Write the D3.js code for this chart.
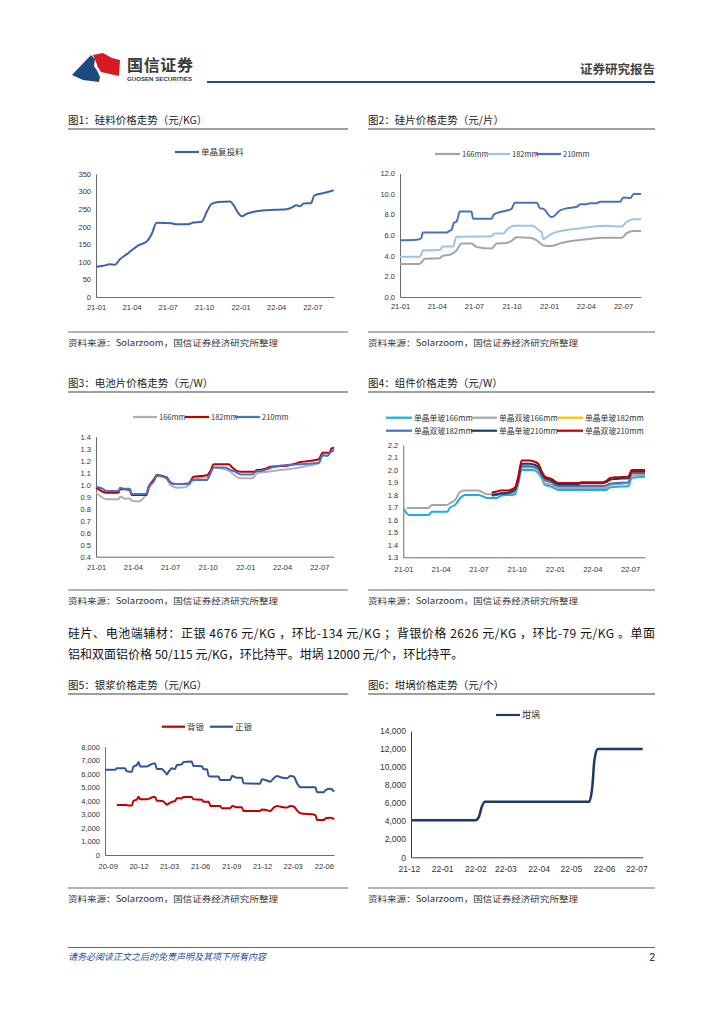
<!DOCTYPE html>
<html>
<head>
<meta charset="utf-8">
<script src="https://cdn.jsdelivr.net/npm/d3@7"></script>
<style>
  body { margin: 0; background: #fff; }
  svg text { font-family: "Noto Sans CJK SC", "Noto Sans", sans-serif; }
</style>
</head>
<body>
<svg id="page" width="724" height="1024"></svg>
<script>
// ---- data ----

// fig1 silicon (单晶复投料), 元/KG
const c1Dates = ["2021-01-01","2021-01-19","2021-02-05","2021-02-18","2021-03-03","2021-03-20","2021-04-01","2021-04-18","2021-05-09","2021-05-22","2021-06-03","2021-07-11","2021-07-20","2021-08-22","2021-09-04","2021-09-25","2021-10-08","2021-10-20","2021-11-06","2021-12-06","2021-12-14","2021-12-27","2022-01-04","2022-01-17","2022-02-07","2022-03-04","2022-03-30","2022-04-28","2022-05-11","2022-05-22","2022-06-01","2022-06-09","2022-06-28","2022-07-06","2022-07-21","2022-08-07","2022-08-24"];
const c1Vals  = [86,89,93,92,108,122,133,147,158,180,211,210,207,207,212,214,243,265,270,272,262,238,230,237,243,247,248,250,255,261,258,266,267,288,294,298,304];
const c1Names = ["单晶复投料"];
const c1Ticks = [0,50,100,150,200,250,300,350];
const c1XTicks = ["21-01","21-04","21-07","21-10","22-01","22-04","22-07"];

// fig2 wafer, 元/片
const c2Names = ["166mm","182mm","210mm"];
const wafer166 = [["2021-01-01",3.2],["2021-02-18",3.2],["2021-03-03",3.7],["2021-04-08",3.75],["2021-04-16",4.0],["2021-05-03",4.1],["2021-05-19",4.5],["2021-06-01",5.2],["2021-06-25",5.2],["2021-07-08",4.85],["2021-08-13",4.7],["2021-08-26",5.2],["2021-09-19",5.25],["2021-10-01",5.45],["2021-10-14",5.8],["2021-11-15",5.75],["2021-12-02",5.5],["2021-12-18",5.0],["2022-01-07",4.95],["2022-01-28",5.2],["2022-03-01",5.45],["2022-04-03",5.6],["2022-05-14",5.75],["2022-06-28",5.75],["2022-07-10",6.2],["2022-07-27",6.4],["2022-08-14",6.4]];
const wafer182 = [["2021-01-01",3.9],["2021-02-18",3.9],["2021-02-22",4.1],["2021-02-26",4.5],["2021-04-08",4.55],["2021-04-16",4.9],["2021-05-11",4.9],["2021-05-19",5.85],["2021-08-13",5.9],["2021-08-21",6.15],["2021-09-11",6.15],["2021-09-19",6.5],["2021-10-09",6.9],["2021-11-23",6.9],["2021-12-06",6.5],["2021-12-14",6.25],["2021-12-18",5.6],["2021-12-26",5.8],["2022-01-11",6.2],["2022-02-13",6.5],["2022-03-18",6.65],["2022-04-20",6.85],["2022-05-22",6.9],["2022-06-28",6.85],["2022-07-10",7.3],["2022-07-27",7.55],["2022-08-14",7.55]];
const wafer210 = [["2021-01-01",5.5],["2021-02-10",5.55],["2021-02-22",5.7],["2021-02-26",6.25],["2021-04-26",6.25],["2021-05-01",6.4],["2021-05-07",6.5],["2021-05-13",7.2],["2021-05-19",7.3],["2021-05-28",8.3],["2021-06-25",8.3],["2021-06-29",7.6],["2021-08-13",7.6],["2021-08-19",8.0],["2021-08-30",8.2],["2021-09-15",8.35],["2021-10-01",8.55],["2021-10-09",9.15],["2021-12-02",9.15],["2021-12-10",8.6],["2021-12-18",8.55],["2022-01-07",7.75],["2022-01-28",8.4],["2022-02-13",8.6],["2022-03-10",8.75],["2022-03-18",9.0],["2022-04-03",9.0],["2022-04-11",9.1],["2022-04-28",9.1],["2022-05-06",9.25],["2022-06-24",9.25],["2022-07-02",9.65],["2022-07-19",9.6],["2022-07-27",10.0],["2022-08-14",10.0]];
const c2Ticks = [0,2,4,6,8,10,12];
const c2XTicks = ["21-01","21-04","21-07","21-10","22-01","22-04","22-07"];

// fig3 cell, 元/W
const c3Names = ["166mm","182mm","210mm"];
const cell166 = [["2021-01-01",0.936],["2021-01-27",0.878],["2021-02-25",0.878],["2021-03-01",0.9],["2021-03-13",0.883],["2021-03-25",0.886],["2021-03-29",0.867],["2021-04-15",0.861],["2021-05-01",0.906],["2021-05-09",0.956],["2021-05-22",1.04],["2021-05-30",1.072],["2021-06-23",1.053],["2021-07-02",0.997],["2021-07-18",0.975],["2021-08-07",0.978],["2021-08-20",1.011],["2021-09-01",1.053],["2021-09-29",1.061],["2021-10-08",1.108],["2021-10-16",1.144],["2021-11-13",1.128],["2021-11-26",1.108],["2021-12-08",1.072],["2021-12-20",1.053],["2022-01-18",1.053],["2022-01-30",1.094],["2022-02-24",1.108],["2022-03-28",1.122],["2022-04-30",1.136],["2022-06-02",1.158],["2022-06-30",1.178],["2022-07-09",1.239],["2022-07-21",1.239],["2022-07-31",1.275],["2022-08-06",1.285]];
const cell182 = [["2021-01-01",0.978],["2021-01-27",0.933],["2021-02-25",0.933],["2021-03-01",0.964],["2021-03-25",0.956],["2021-03-29",0.914],["2021-05-05",0.914],["2021-05-09",0.975],["2021-05-22",1.04],["2021-05-30",1.08],["2021-06-23",1.06],["2021-07-02",1.02],["2021-07-14",1.005],["2021-08-15",1.01],["2021-08-28",1.067],["2021-09-13",1.072],["2021-09-29",1.078],["2021-10-08",1.117],["2021-10-16",1.17],["2021-11-22",1.17],["2021-11-30",1.144],["2021-12-08",1.122],["2021-12-20",1.108],["2022-01-22",1.108],["2022-01-30",1.122],["2022-02-15",1.128],["2022-03-04",1.15],["2022-04-14",1.158],["2022-04-30",1.172],["2022-05-16",1.189],["2022-06-18",1.203],["2022-06-30",1.214],["2022-07-09",1.267],["2022-07-21",1.267],["2022-07-25",1.262],["2022-07-31",1.303],["2022-08-06",1.308]];
const cell210 = [["2021-01-01",0.983],["2021-01-19",0.964],["2021-01-27",0.947],["2021-02-25",0.947],["2021-03-01",0.975],["2021-03-09",0.967],["2021-03-25",0.967],["2021-03-29",0.922],["2021-05-05",0.922],["2021-05-09",0.98],["2021-05-22",1.025],["2021-05-30",1.075],["2021-06-15",1.067],["2021-06-23",1.05],["2021-07-02",1.017],["2021-07-14",1.005],["2021-08-15",1.005],["2021-08-24",1.04],["2021-09-29",1.04],["2021-10-08",1.094],["2021-10-16",1.144],["2021-11-13",1.144],["2021-11-26",1.122],["2021-12-08",1.108],["2021-12-20",1.086],["2022-01-18",1.086],["2022-01-26",1.108],["2022-02-11",1.117],["2022-02-24",1.13],["2022-03-12",1.15],["2022-04-14",1.164],["2022-05-16",1.17],["2022-06-18",1.178],["2022-06-30",1.183],["2022-07-09",1.247],["2022-07-21",1.242],["2022-07-29",1.275],["2022-08-06",1.289]];
const c3Ticks = [0.4,0.5,0.6,0.7,0.8,0.9,1.0,1.1,1.2,1.3,1.4];
const c3XTicks = ["21-01","21-04","21-07","21-10","22-01","22-04","22-07"];

// fig4 module, 元/W
const c4Names = ["单晶单玻166mm","单晶双玻166mm","单晶单玻182mm","单晶双玻182mm","单晶单玻210mm","单晶双玻210mm"];
const c4Dates = ["2021-01-02","2021-01-10","2021-01-14","2021-03-03","2021-03-11","2021-04-16","2021-04-24","2021-05-06","2021-05-18","2021-05-30","2021-07-01","2021-07-17","2021-07-21","2021-08-02","2021-08-14","2021-08-22","2021-09-07","2021-09-19","2021-09-27","2021-10-05","2021-10-13","2021-11-02","2021-11-10","2021-11-22","2021-11-30","2021-12-08","2021-12-24","2022-01-05","2022-01-09","2022-01-13","2022-02-26","2022-03-06","2022-04-27","2022-05-05","2022-05-13","2022-05-30","2022-06-27","2022-07-05","2022-08-06"];
const modS166 = [1.69,1.65,1.64,1.64,1.665,1.665,1.70,1.72,1.775,1.80,1.80,1.78,1.775,1.775,1.775,1.79,1.80,1.80,1.805,1.89,2.0,2.0,2.0,1.975,1.935,1.88,1.865,1.845,1.84,1.84,1.84,1.84,1.84,1.84,1.86,1.865,1.87,1.935,1.945];
const modD166 = [null,1.695,1.695,1.695,1.72,1.72,1.735,1.76,1.825,1.835,1.835,1.81,1.805,1.805,1.805,1.81,1.815,1.815,1.82,1.92,2.02,2.02,2.02,1.995,1.955,1.895,1.88,1.86,1.855,1.855,1.855,1.855,1.855,1.855,1.88,1.885,1.895,1.955,1.96];
const modS182 = [null,null,null,null,null,null,null,null,null,null,null,null,null,1.795,1.80,1.805,1.81,1.82,1.835,1.91,2.03,2.03,2.025,2.01,1.96,1.92,1.90,1.875,1.872,1.872,1.872,1.872,1.872,1.875,1.89,1.895,1.90,1.974,1.974];
const modD182 = [null,null,null,null,null,null,null,null,null,null,null,null,null,1.795,1.80,1.805,1.81,1.82,1.835,1.91,2.03,2.03,2.025,2.01,1.96,1.92,1.90,1.875,1.872,1.872,1.872,1.872,1.872,1.875,1.89,1.895,1.90,1.974,1.974];
const modS210 = [null,null,null,null,null,null,null,null,null,null,null,null,null,1.80,1.805,1.813,1.815,1.83,1.845,1.93,2.05,2.05,2.045,2.025,1.975,1.935,1.915,1.89,1.886,1.886,1.886,1.894,1.894,1.902,1.92,1.928,1.934,1.987,1.987];
const modD210 = [null,null,null,null,null,null,null,null,null,null,null,null,null,1.82,1.827,1.835,1.835,1.845,1.86,1.95,2.075,2.075,2.07,2.05,1.99,1.947,1.928,1.90,1.895,1.895,1.895,1.902,1.902,1.912,1.934,1.942,1.947,2.0,2.0];
const c4Ticks = [1.3,1.4,1.5,1.6,1.7,1.8,1.9,2.0,2.1,2.2];
const c4XTicks = ["21-01","21-04","21-07","21-10","22-01","22-04","22-07"];

// fig5 silver paste, 元/KG
const c5Names = ["背银","正银"];
const c5Dates = ["2020-08-24","2020-09-23","2020-09-28","2020-10-22","2020-10-27","2020-11-01","2020-11-11","2020-11-16","2020-11-26","2020-12-01","2020-12-06","2020-12-25","2021-01-04","2021-01-14","2021-01-19","2021-01-24","2021-02-08","2021-02-13","2021-02-18","2021-02-23","2021-02-28","2021-03-05","2021-03-09","2021-03-19","2021-03-24","2021-04-08","2021-04-13","2021-05-07","2021-05-12","2021-06-06","2021-06-11","2021-06-21","2021-06-26","2021-07-01","2021-07-25","2021-07-30","2021-08-04","2021-08-29","2021-09-03","2021-09-08","2021-09-17","2021-10-02","2021-10-07","2021-11-25","2021-11-30","2021-12-10","2021-12-25","2022-01-04","2022-01-14","2022-01-24","2022-02-12","2022-02-22","2022-03-04","2022-03-14","2022-03-24","2022-05-07","2022-05-12","2022-06-01","2022-06-06","2022-06-20","2022-06-25","2022-07-01"];
const backAg  = [null,null,3690,3690,3690,3650,3650,3990,4110,4310,4110,4110,4190,4290,4290,4010,3990,3950,3820,3720,3800,3870,3930,3990,4190,4190,4290,4290,4110,4090,3940,3940,3940,3620,3620,3620,3450,3450,3620,3600,3520,3520,3250,3250,3370,3340,3250,3500,3620,3570,3500,3620,3580,3280,3080,2960,2590,2590,2710,2760,2740,2626];
const frontAg = [6300,6300,6400,6400,6200,6170,6150,6530,6650,6870,6530,6530,6650,6750,6750,6350,6350,6230,6100,5950,6160,6300,6400,6350,6650,6700,6870,6900,6580,6560,6330,6330,5840,5800,5790,5540,5540,5540,5860,5800,5710,5710,5300,5270,5590,5540,5420,5670,5840,5740,5670,5840,5800,5300,5000,5000,4630,4630,4800,4900,4850,4676];
const c5Ticks = [0,1000,2000,3000,4000,5000,6000,7000,8000];
const c5XTicks = ["20-09","20-12","21-03","21-06","21-09","21-12","22-03","22-06"];

// fig6 crucible, 元/个
const c6Names = ["坩埚"];
const c6Dates = ["2021-12-04","2022-02-01","2022-02-04","2022-02-07","2022-02-10","2022-02-13","2022-05-18","2022-05-21","2022-05-23","2022-05-26","2022-05-28","2022-07-07"];
const c6Vals  = [4100,4100,4400,5600,6150,6150,6150,7800,10800,12000,12000,12000];
const c6Ticks = [0,2000,4000,6000,8000,10000,12000,14000];
const c6XTicks = ["21-12","22-01","22-02","22-03","22-04","22-05","22-06","22-07"];

// ---- drawing ----
const svg = d3.select("#page");
const parse = d3.timeParse("%Y-%m-%d");
const parseTick = d3.timeParse("%y-%m");
const zip = (dates, vals) => dates.map((d, i) => [d, vals[i]]);

function lineChart(o) {
  const g = svg.append("g");
  const x = d3.scaleTime().domain([parse(o.d0), parse(o.d1)]).range([o.left, o.right]);
  const y = d3.scaleLinear().domain([o.yTicks[0], o.yTicks[o.yTicks.length - 1]]).range([o.bottom, o.top]);

  const ya = g.append("g").attr("transform", `translate(${o.left},0)`)
    .call(d3.axisLeft(y).tickValues(o.yTicks).tickFormat(o.yFmt).tickSize(0).tickSizeOuter(0).tickPadding(5));
  const xa = g.append("g").attr("transform", `translate(0,${o.bottom})`)
    .call(d3.axisBottom(x).tickValues(o.xTicks.map(parseTick)).tickFormat(d3.timeFormat("%y-%m"))
      .tickSize(0).tickSizeOuter(0).tickPadding(o.xPad));
  [ya, xa].forEach(a => {
    a.select(".domain").attr("stroke", o.axisColor || "#6b6b6b").attr("stroke-width", 1);
    a.selectAll("text").attr("fill", "#333").style("font-family", o.tickFont)
      .style("font-size", o.tickSize + "px");
  });

  const line = d3.line().defined(d => d[1] != null)
    .x(d => x(parse(d[0]))).y(d => y(d[1])).curve(d3.curveMonotoneX);
  o.series.forEach(s => {
    g.append("path").datum(s.data).attr("d", line)
      .attr("fill", "none").attr("stroke", s.color).attr("stroke-width", s.w || 2)
      .attr("stroke-linejoin", "round");
  });

  // legend
  o.legend.forEach((l, i) => {
    const s = o.series[l.idx];
    g.append("line").attr("x1", l.x).attr("x2", l.x + l.len).attr("y1", l.y).attr("y2", l.y)
      .attr("stroke", s.color).attr("stroke-width", 2.2);
    g.append("text").attr("x", l.x + l.len + 2).attr("y", l.y + 3)
      .attr("font-size", o.legendSize).attr("fill", "#333").text(o.names[l.idx]);
  });
}

// frames, titles, sources
function frame(x, w, titleY, lineY, srcY, title) {
  svg.append("text").attr("x", x).attr("y", titleY).attr("font-size", 10.5).attr("fill", "#222").text(title);
  svg.append("line").attr("x1", x).attr("x2", x + w).attr("y1", lineY).attr("y2", lineY)
    .attr("stroke", "#7f7f7f").attr("stroke-width", 1.5);
  svg.append("line").attr("x1", x).attr("x2", x + w).attr("y1", srcY - 11).attr("y2", srcY - 11)
    .attr("stroke", "#9a9a9a").attr("stroke-width", 1.5);
  svg.append("text").attr("x", x).attr("y", srcY + 3).attr("font-size", 8.5).attr("fill", "#333")
    .attr("textLength", 210).attr("lengthAdjust", "spacingAndGlyphs")
    .text("资料来源：Solarzoom，国信证券经济研究所整理");
}
frame(68, 280, 124, 129, 343, "图1：硅料价格走势（元/KG）");
frame(368, 287, 124, 129, 343, "图2：硅片价格走势（元/片）");
frame(68, 280, 387, 392, 601, "图3：电池片价格走势（元/W）");
frame(368, 287, 387, 392, 601, "图4：组件价格走势（元/W）");
frame(68, 280, 689, 694, 899, "图5：银浆价格走势（元/KG）");
frame(368, 287, 689, 694, 899, "图6：坩埚价格走势（元/个）");

const smallFont = "'Liberation Sans', Arial, sans-serif";
const f1 = d3.format(".1f");

lineChart({ left: 96, right: 334, top: 174, bottom: 297, d0: "2021-01-01", d1: "2022-08-25",
  yTicks: c1Ticks, yFmt: d3.format("d"), xTicks: c1XTicks, xPad: 7.5, tickFont: smallFont, tickSize: 7.5,
  names: c1Names, legendSize: 8.5,
  series: [{ data: zip(c1Dates, c1Vals), color: "#3e63ab" }],
  legend: [{ idx: 0, x: 175, len: 24, y: 152 }] });

lineChart({ left: 400, right: 641, top: 173.3, bottom: 297, d0: "2021-01-01", d1: "2022-08-14",
  yTicks: c2Ticks, yFmt: f1, xTicks: c2XTicks, xPad: 7, tickFont: smallFont, tickSize: 7.5,
  names: c2Names, legendSize: 7.5,
  series: [{ data: wafer166, color: "#a5a5a5" }, { data: wafer182, color: "#9dc3e6" }, { data: wafer210, color: "#4472c4" }],
  legend: [{ idx: 0, x: 435, len: 25, y: 154 }, { idx: 1, x: 485, len: 25, y: 154 }, { idx: 2, x: 536, len: 25, y: 154 }] });

lineChart({ left: 96, right: 334, top: 436.7, bottom: 556.7, d0: "2021-01-01", d1: "2022-08-06",
  yTicks: c3Ticks, yFmt: f1, xTicks: c3XTicks, xPad: 7.5, tickFont: smallFont, tickSize: 7.5,
  names: c3Names, legendSize: 7.5,
  series: [{ data: cell166, color: "#b0b0b0" }, { data: cell182, color: "#c00000" }, { data: cell210, color: "#4472c4" }],
  legend: [{ idx: 0, x: 133, len: 24, y: 417 }, { idx: 1, x: 185, len: 24, y: 417 }, { idx: 2, x: 235, len: 25, y: 417 }] });

lineChart({ left: 403.3, right: 645, top: 445, bottom: 557.3, d0: "2021-01-01", d1: "2022-08-06",
  yTicks: c4Ticks, yFmt: f1, xTicks: c4XTicks, xPad: 9, tickFont: smallFont, tickSize: 7.5,
  names: c4Names, legendSize: 7.8,
  series: [
    { data: zip(c4Dates, modS166), color: "#19aeea" },
    { data: zip(c4Dates, modD166), color: "#a6a6a6" },
    { data: zip(c4Dates, modS182), color: "#ffc000" },
    { data: zip(c4Dates, modD182), color: "#4472c4" },
    { data: zip(c4Dates, modS210), color: "#203864" },
    { data: zip(c4Dates, modD210), color: "#c00000" }],
  legend: [
    { idx: 0, x: 386, len: 26, y: 417.7 }, { idx: 1, x: 471, len: 26, y: 417.7 }, { idx: 2, x: 557, len: 26, y: 417.7 },
    { idx: 3, x: 386, len: 26, y: 430.7 }, { idx: 4, x: 471, len: 26, y: 430.7 }, { idx: 5, x: 557, len: 26, y: 430.7 }] });

lineChart({ left: 105, right: 334, top: 746.7, bottom: 855, d0: "2020-08-24", d1: "2022-07-01",
  yTicks: c5Ticks, yFmt: d3.format(","), xTicks: c5XTicks, xPad: 9, tickFont: smallFont, tickSize: 7.5,
  names: c5Names, legendSize: 8.5,
  series: [{ data: zip(c5Dates, backAg), color: "#c00000" }, { data: zip(c5Dates, frontAg), color: "#2f5597" }],
  legend: [{ idx: 0, x: 162, len: 23, y: 726.7 }, { idx: 1, x: 210, len: 23, y: 726.7 }] });

lineChart({ left: 411, right: 642.7, top: 731, bottom: 857.3, d0: "2021-12-03", d1: "2022-07-07",
  yTicks: c6Ticks, yFmt: d3.format(","), xTicks: c6XTicks, xPad: 9, tickFont: smallFont, tickSize: 8.5,
  axisColor: "#404040", names: c6Names, legendSize: 9,
  series: [{ data: zip(c6Dates, c6Vals), color: "#1f3864", w: 2.5 }],
  legend: [{ idx: 0, x: 496, len: 24, y: 715 }] });

// ---- page header ----
svg.append("path").attr("d", "M72,75 L91,55 L95,59 L94,66 Q98,71 100,77 L99,82 L83,80 Z").attr("fill", "#1c4a80");
svg.append("path").attr("d", "M93,55 L103,53 L112,58 L120,60 L119,76 L101,72 Q97,67 96,62 Z").attr("fill", "#d71a21");
svg.append("text").attr("x", 127).attr("y", 71).attr("font-size", 16).attr("font-weight", "bold")
  .attr("fill", "#3a3a3a").attr("textLength", 66).text("国信证券");
svg.append("text").attr("x", 127).attr("y", 81).attr("font-size", 6).attr("font-weight", "bold")
  .style("font-family", smallFont).attr("fill", "#3a3a3a").attr("textLength", 65)
  .attr("lengthAdjust", "spacingAndGlyphs").text("GUOSEN SECURITIES");
svg.append("line").attr("x1", 207).attr("x2", 655).attr("y1", 82).attr("y2", 82)
  .attr("stroke", "#1f4e79").attr("stroke-width", 2);
svg.append("text").attr("x", 655).attr("y", 74).attr("text-anchor", "end").attr("font-size", 12.5)
  .attr("font-weight", "bold").attr("fill", "#444").text("证券研究报告");

// ---- body paragraph ----
svg.append("text").attr("x", 68).attr("y", 638).attr("font-size", 12).attr("fill", "#111")
  .attr("textLength", 587).attr("lengthAdjust", "spacing")
  .text("硅片、电池端辅材：正银 4676 元/KG ，环比-134 元/KG ；背银价格 2626 元/KG ，环比-79 元/KG 。单面");
svg.append("text").attr("x", 68).attr("y", 659).attr("font-size", 12).attr("fill", "#111")
  .text("铝和双面铝价格 50/115 元/KG，环比持平。坩埚 12000 元/个，环比持平。");

// ---- footer ----
svg.append("line").attr("x1", 68).attr("x2", 655).attr("y1", 947.5).attr("y2", 947.5)
  .attr("stroke", "#3d6fb0").attr("stroke-width", 1);
svg.append("text").attr("x", 68).attr("y", 960).attr("font-size", 9).attr("font-style", "italic")
  .attr("fill", "#1f4e9a").text("请务必阅读正文之后的免责声明及其项下所有内容");
svg.append("text").attr("x", 655).attr("y", 961).attr("text-anchor", "end").attr("font-size", 10)
  .style("font-family", smallFont).attr("fill", "#111").text("2");
</script>
</body>
</html>
